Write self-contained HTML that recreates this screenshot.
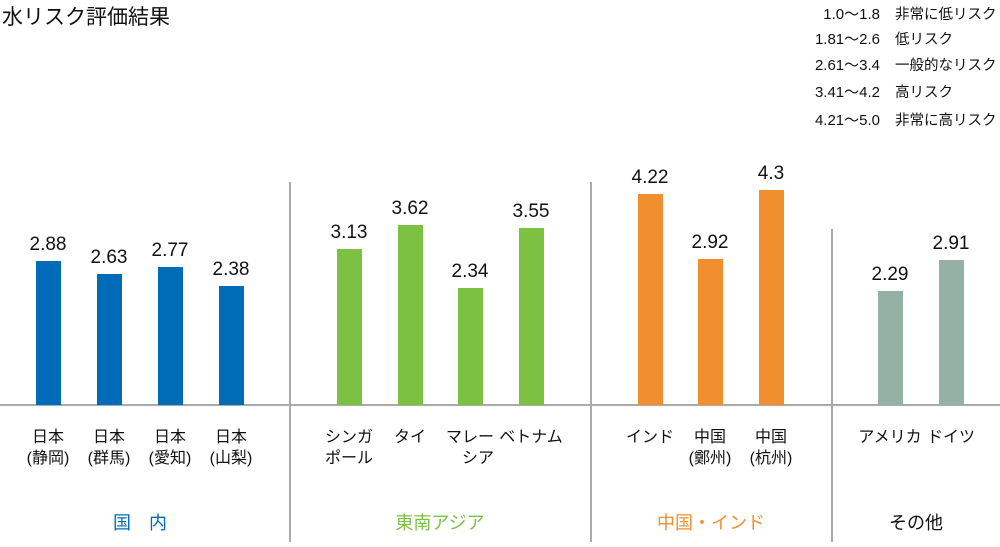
<!DOCTYPE html><html><head><meta charset="utf-8"><style>body{margin:0;background:#fff}svg text{font-family:"Liberation Sans","Noto Sans CJK JP",sans-serif;fill:#111}</style></head><body>
<svg width="1000" height="542" viewBox="0 0 1000 542">
<text x="2" y="24" font-size="21">水リスク評価結果</text>
<g font-size="15" text-anchor="end">
<text x="880" y="19">1.0〜1.8</text>
<text x="880" y="44">1.81〜2.6</text>
<text x="880" y="70">2.61〜3.4</text>
<text x="880" y="97">3.41〜4.2</text>
<text x="880" y="125">4.21〜5.0</text>
</g>
<g font-size="14.5">
<text x="895" y="19">非常に低リスク</text>
<text x="895" y="44">低リスク</text>
<text x="895" y="70">一般的なリスク</text>
<text x="895" y="97">高リスク</text>
<text x="895" y="125">非常に高リスク</text>
</g>
<g stroke="#aaa" stroke-width="2"><line x1="0" y1="405" x2="1000" y2="405"/><line x1="290" y1="182" x2="290" y2="542"/><line x1="591" y1="182" x2="591" y2="542"/><line x1="832" y1="229" x2="832" y2="542"/></g>
<g fill="#006cb8"><rect x="36" y="261" width="25" height="144"/><rect x="97" y="274" width="25" height="131"/><rect x="158" y="267" width="25" height="138"/><rect x="219" y="286" width="25" height="119"/></g>
<g fill="#7dc142"><rect x="337" y="249" width="25" height="156"/><rect x="398" y="225" width="25" height="180"/><rect x="458" y="288" width="25" height="117"/><rect x="519" y="228" width="25" height="177"/></g>
<g fill="#f18f2e"><rect x="638" y="194" width="25" height="211"/><rect x="698" y="259" width="25" height="146"/><rect x="759" y="190" width="25" height="215"/></g>
<g fill="#95b0a5"><rect x="878" y="291" width="25" height="114"/><rect x="939" y="260" width="25" height="145"/></g>
<g font-size="19" text-anchor="middle">
<text x="48" y="250">2.88</text><text x="109" y="263">2.63</text><text x="170" y="256">2.77</text><text x="231" y="275">2.38</text>
<text x="349" y="238">3.13</text><text x="410" y="214">3.62</text><text x="470" y="277">2.34</text><text x="531" y="217">3.55</text>
<text x="650" y="183">4.22</text><text x="710" y="248">2.92</text><text x="771" y="179">4.3</text>
<text x="890" y="280">2.29</text><text x="951" y="249">2.91</text>
</g>
<g font-size="16" text-anchor="middle">
<text x="48" y="442">日本</text><text x="48" y="463">(静岡)</text>
<text x="109" y="442">日本</text><text x="109" y="463">(群馬)</text>
<text x="170" y="442">日本</text><text x="170" y="463">(愛知)</text>
<text x="231" y="442">日本</text><text x="231" y="463">(山梨)</text>
<text x="349" y="442">シンガ</text><text x="349" y="463">ポール</text>
<text x="410" y="442">タイ</text>
<text x="470" y="442">マレー</text><text x="478" y="463">シア</text>
<text x="531" y="442">ベトナム</text>
<text x="650" y="442">インド</text>
<text x="710" y="442">中国</text><text x="710" y="463">(鄭州)</text>
<text x="771" y="442">中国</text><text x="771" y="463">(杭州)</text>
<text x="890" y="442">アメリカ</text><text x="951" y="442">ドイツ</text>
</g>
<g font-size="18" text-anchor="middle">
<text x="140" y="529" style="fill:#006cb8">国　内</text>
<text x="440" y="529" style="fill:#7dc142">東南アジア</text>
<text x="711" y="529" style="fill:#f18f2e">中国・インド</text>
<text x="916" y="529">その他</text>
</g>
</svg></body></html>
